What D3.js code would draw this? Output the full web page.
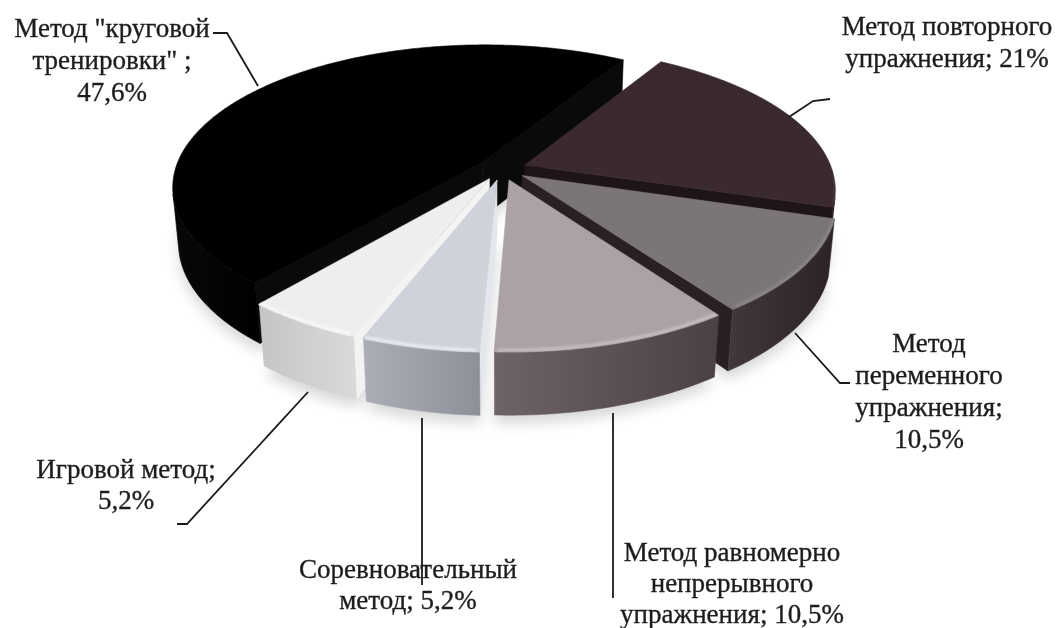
<!DOCTYPE html>
<html>
<head>
<meta charset="utf-8">
<script src="https://cdn.jsdelivr.net/npm/d3@7"></script>
<style>
  html, body { margin: 0; padding: 0; background: #ffffff; }
  svg { display: block; }
</style>
</head>
<body>
<svg id="chart" width="1064" height="628"></svg>
<script>
// ---- data -------------------------------------------------------------
const categories = [
  'Метод повторного упражнения',
  'Метод переменного упражнения',
  'Метод равномерно непрерывного упражнения',
  'Соревновательный метод',
  'Игровой метод',
  'Метод "круговой тренировки"'
];
const values = [21, 10.5, 10.5, 5.2, 5.2, 47.6];
// label text, line by line; {v} is replaced by the slice value
const labelLines = [
  ['Метод повторного', 'упражнения; {v}'],
  ['Метод', 'переменного', 'упражнения;', '{v}'],
  ['Метод равномерно', 'непрерывного', 'упражнения; {v}'],
  ['Соревновательный', 'метод; {v}'],
  ['Игровой метод;', '{v}'],
  ['Метод "круговой', 'тренировки" ;', '{v}']
];

// ---- styles -----------------------------------------------------------
const topFill  = ['#3a2a2d', '#7b7577', '#aca2a4', '#cfd2da', '#eeeeee', '#000000'];
const wallFill = [['#35272b', '#221719'], ['#423739', '#2c2325'], ['#6e6366', '#4a4144'],
                  ['#acaeb6', '#8e9099'], ['#c5c5c5', '#dcdad8'], ['#080808', '#000000']];
const cutFill  = ['#1f1517', '#2a2022', '#5a5052', '#e3e6eb', '#f3f3f3', '#0a0a0a'];
const rimGlow  = [0.08, 0.12, 0.30, 0.55, 0.55, 0.0];

// label placement: centre x, first baseline, line step; leader polyline
const labelPos = [
  { x: 947, y: 35,  step: 32, leader: [[830, 99], [813, 101], [789, 117]] },
  { x: 929, y: 352, step: 32, leader: [[850, 383], [840, 383], [795, 333]] },
  { x: 732, y: 561, step: 31, leader: [[613, 413], [613, 598]] },
  { x: 408, y: 578, step: 31, leader: [[422, 418], [422, 585]] },
  { x: 126, y: 478, step: 31, leader: [[177, 524], [187, 524], [308, 392]] },
  { x: 112, y: 37,  step: 32, leader: [[213, 33], [227, 33], [258, 86]] }
];

// ---- 3D projection ----------------------------------------------------
const CX = 502, CY = 169;          // projected pie centre (top plane)
const S = 307;                     // radius scale, px
const TILT = 27 * Math.PI / 180;   // camera elevation
const SA = Math.sin(TILT), CA = Math.cos(TILT);
const DIST = 5.33;                 // camera distance, in radii
const THICK = 0.205;               // pie thickness, in radii
const EXPLODE = 0.08;              // slice offset, in radii
const START = 31.3 * Math.PI / 180;
const CAM = [0, DIST * SA, DIST * CA];

function proj(X, Y, Z) {
  const depth = DIST - (Y * SA + Z * CA);
  const f = DIST / depth;
  return [CX + S * X * f, CY - S * (Y * CA - Z * SA) * f];
}
function camDist(X, Y, Z) {
  return Math.hypot(X - CAM[0], Y - CAM[1], Z - CAM[2]);
}

const pie = d3.pie().sort(null).value(d => d)
  .startAngle(START).endAngle(START + 2 * Math.PI);
const arcs = pie(values);

const closed = d3.line().curve(d3.curveLinearClosed);
const open = d3.line();

const svg = d3.select('#chart');
const defs = svg.append('defs');
defs.append('filter').attr('id', 'soft')
  .attr('x', '-20%').attr('y', '-20%').attr('width', '140%').attr('height', '140%')
  .append('feGaussianBlur').attr('stdDeviation', 7);
defs.append('filter').attr('id', 'glow')
  .append('feGaussianBlur').attr('stdDeviation', 1.2);
defs.append('filter').attr('id', 'textsoft')
  .append('feGaussianBlur').attr('stdDeviation', 0.35);

wallFill.forEach((c, i) => {
  const g = defs.append('linearGradient').attr('id', 'wall' + i)
    .attr('x1', 0).attr('y1', 0).attr('x2', 1).attr('y2', 0);
  g.append('stop').attr('offset', 0).attr('stop-color', c[0]);
  g.append('stop').attr('offset', 1).attr('stop-color', c[1]);
});

const slices = arcs.map((a, i) => {
  const mid = (a.startAngle + a.endAngle) / 2;
  return {
    i, a0: a.startAngle, a1: a.endAngle,
    ox: EXPLODE * Math.sin(mid), oz: -EXPLODE * Math.cos(mid)
  };
});

function rim(s, b0, b1, Y) {
  const n = Math.max(2, Math.ceil(Math.abs(b1 - b0) / (0.5 * Math.PI / 180)));
  const pts = [];
  for (let k = 0; k <= n; k++) {
    const t = b0 + (b1 - b0) * k / n;
    pts.push(proj(Math.sin(t) + s.ox, Y, -Math.cos(t) + s.oz));
  }
  return pts;
}
function wallVisible(s, t) {
  const nx = Math.sin(t), nz = -Math.cos(t);
  const px = Math.sin(t) + s.ox, pz = -Math.cos(t) + s.oz;
  return nx * (CAM[0] - px) + nz * (CAM[2] - pz) > 0;
}

// side faces: outer walls and radial cut faces
const faces = [];
slices.forEach(s => {
  const step = 0.25 * Math.PI / 180;
  let runStart = null;
  for (let t = s.a0; t <= s.a1 + 1e-9; t += step) {
    const tt = Math.min(t, s.a1);
    const vis = wallVisible(s, tt);
    if (vis && runStart === null) runStart = tt;
    const last = tt >= s.a1 - 1e-9 || t + step > s.a1 + 1e-9;
    if (runStart !== null && (!vis || last)) {
      const b0 = runStart, b1 = tt;
      if (b1 - b0 > 1e-4) {
        const pts = rim(s, b0, b1, 0).concat(rim(s, b0, b1, -THICK).reverse());
        const m = (b0 + b1) / 2;
        faces.push({ pts, fill: `url(#wall${s.i})`,
          d: camDist(Math.sin(m) + s.ox, -THICK / 2, -Math.cos(m) + s.oz) });
      }
      runStart = null;
    }
  }
  [[s.a0, s.a0 - Math.PI / 2], [s.a1, s.a1 + Math.PI / 2]].forEach(([ang, na]) => {
    const nx = Math.sin(na), nz = -Math.cos(na);
    if (nx * (CAM[0] - s.ox) + nz * (CAM[2] - s.oz) <= 0) return;
    const ex = Math.sin(ang) + s.ox, ez = -Math.cos(ang) + s.oz;
    const pts = [proj(s.ox, 0, s.oz), proj(ex, 0, ez), proj(ex, -THICK, ez), proj(s.ox, -THICK, s.oz)];
    faces.push({ pts, fill: cutFill[s.i],
      d: camDist((s.ox + ex) / 2, -THICK / 2, (s.oz + ez) / 2) });
  });
});
faces.sort((p, q) => q.d - p.d);

// soft shadow under the pie
svg.append('g').attr('filter', 'url(#soft)').attr('opacity', 0.16)
  .selectAll('path').data(slices).join('path')
  .attr('transform', 'translate(0,8)')
  .attr('d', s => closed([proj(s.ox, -THICK, s.oz)].concat(rim(s, s.a0, s.a1, -THICK))))
  .attr('fill', '#000');

svg.append('g').selectAll('path').data(faces).join('path')
  .attr('d', f => closed(f.pts))
  .attr('fill', f => f.fill)
  .attr('stroke', f => f.fill)
  .attr('stroke-width', 0.6)
  .attr('stroke-linejoin', 'round');

// top faces
const tops = slices.slice().sort((p, q) =>
  camDist(q.ox, 0, q.oz) - camDist(p.ox, 0, p.oz));
const topG = svg.append('g');
topG.selectAll('path.top').data(tops).join('path')
  .attr('class', 'top')
  .attr('d', s => closed([proj(s.ox, 0, s.oz)].concat(rim(s, s.a0, s.a1, 0))))
  .attr('fill', s => topFill[s.i])
  .attr('stroke', s => topFill[s.i])
  .attr('stroke-width', 0.6)
  .attr('stroke-linejoin', 'round');

// bevel highlight along the front rim of each top face
topG.selectAll('path.rim').data(tops.filter(s => rimGlow[s.i] > 0)).join('path')
  .attr('class', 'rim')
  .attr('d', s => {
    const b0 = Math.max(s.a0, 95 * Math.PI / 180), b1 = Math.min(s.a1, 265 * Math.PI / 180);
    return b1 > b0 ? open(rim(s, b0 + 0.01, b1 - 0.01, 0).map(p => [p[0], p[1] - 2])) : null;
  })
  .attr('fill', 'none')
  .attr('stroke', '#ffffff')
  .attr('stroke-width', 3)
  .attr('stroke-opacity', s => rimGlow[s.i])
  .attr('filter', 'url(#glow)');

// ---- labels -------------------------------------------------------------
const fmt = v => d3.format('.1~f')(v).replace('.', ',') + '%';
const labels = svg.append('g');
labels.selectAll('path').data(labelPos).join('path')
  .attr('d', d => open(d.leader))
  .attr('fill', 'none')
  .attr('stroke', '#1a1a1a')
  .attr('stroke-width', 1.8);

const txt = labels.append('g').attr('filter', 'url(#textsoft)');
labelLines.forEach((lines, i) => {
  const pos = labelPos[i];
  const t = txt.append('text')
    .attr('text-anchor', 'middle')
    .attr('font-family', '"Liberation Serif", "Times New Roman", serif')
    .attr('font-size', 27)
    .attr('fill', '#1e1e1e')
    .attr('stroke', '#1e1e1e')
    .attr('stroke-width', 0.35);
  lines.forEach((ln, k) => {
    t.append('tspan')
      .attr('x', pos.x)
      .attr('y', pos.y + k * pos.step)
      .text(ln.replace('{v}', fmt(values[i])));
  });
});
</script>
</body>
</html>
